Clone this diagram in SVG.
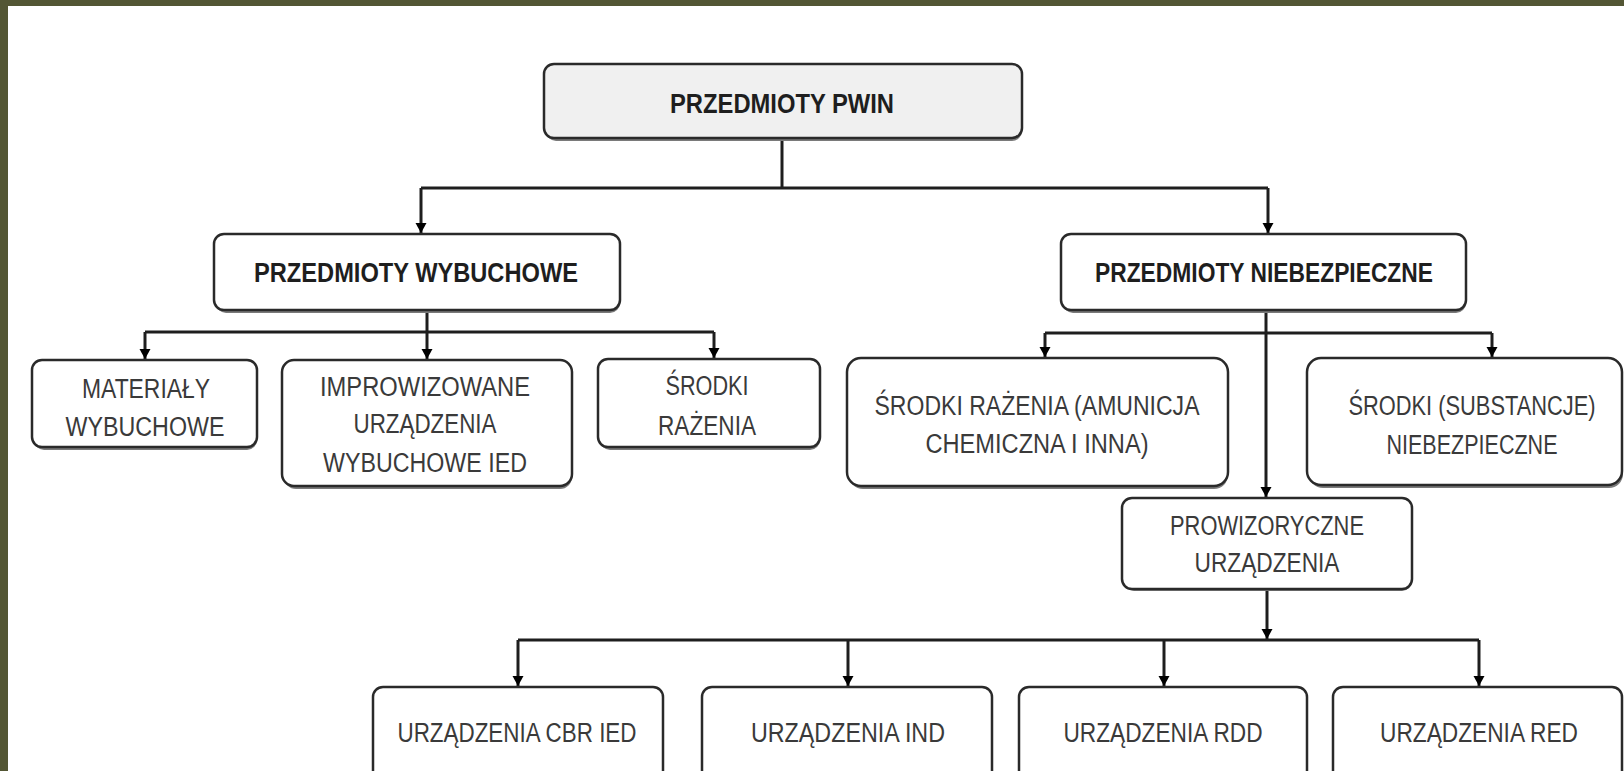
<svg xmlns="http://www.w3.org/2000/svg" width="1624" height="771" viewBox="0 0 1624 771">
<style>
.box{fill:#ffffff;stroke:#2a2a2a;stroke-width:2.5}
.root{fill:#f0f0f0}
.sh{fill:#7a7a7a}
.t{font-family:"Liberation Sans",Arial,sans-serif;font-size:27px;fill:#3a3a3a;text-anchor:middle}
.b{font-weight:bold;fill:#1e1e1e}
.c{fill:none;stroke:#1e1e1e;stroke-width:3}
</style>
<defs>
<marker id="ar" markerUnits="userSpaceOnUse" markerWidth="10" markerHeight="12" viewBox="0 0 10 12" refX="10" refY="6" orient="auto">
<path d="M0 0.5 L10 6 L0 11.5 Z" fill="#000"/>
</marker>
</defs>
<rect x="0" y="0" width="1624" height="771" fill="#ffffff"/>
<rect x="0" y="0" width="1624" height="6" fill="#535634"/>
<rect x="0" y="0" width="8" height="771" fill="#535634"/>

<g id="connectors">
<path class="c" d="M782 139 V188"/>
<path class="c" d="M421 188 H1268"/>
<path class="c" d="M421 188 V233" marker-end="url(#ar)"/>
<path class="c" d="M1268 188 V233" marker-end="url(#ar)"/>
<path class="c" d="M427 311 V332"/>
<path class="c" d="M145 332 H714"/>
<path class="c" d="M145 332 V359" marker-end="url(#ar)"/>
<path class="c" d="M427 332 V359" marker-end="url(#ar)"/>
<path class="c" d="M714 332 V358" marker-end="url(#ar)"/>
<path class="c" d="M1266 311 V497" marker-end="url(#ar)"/>
<path class="c" d="M1045 333 H1492"/>
<path class="c" d="M1045 333 V357" marker-end="url(#ar)"/>
<path class="c" d="M1492 333 V357" marker-end="url(#ar)"/>
<path class="c" d="M1267 590 V639" marker-end="url(#ar)"/>
<path class="c" d="M518 640 H1479"/>
<path class="c" d="M518 640 V686" marker-end="url(#ar)"/>
<path class="c" d="M848 640 V686" marker-end="url(#ar)"/>
<path class="c" d="M1164 640 V686" marker-end="url(#ar)"/>
<path class="c" d="M1479 640 V686" marker-end="url(#ar)"/>
</g>

<g id="n-root">
<rect class="sh" x="546" y="70" width="476" height="71" rx="10"/>
<rect class="box root" x="544" y="64" width="478" height="74" rx="10"/>
<text class="t b" x="782" y="113" textLength="224" lengthAdjust="spacingAndGlyphs">PRZEDMIOTY PWIN</text>
</g>
<g id="n-wybuchowe">
<rect class="sh" x="216" y="240" width="404" height="73" rx="10"/>
<rect class="box" x="214" y="234" width="406" height="76" rx="10"/>
<text class="t b" x="416" y="282" textLength="324" lengthAdjust="spacingAndGlyphs">PRZEDMIOTY WYBUCHOWE</text>
</g>
<g id="n-niebezpieczne">
<rect class="sh" x="1063" y="240" width="403" height="73" rx="10"/>
<rect class="box" x="1061" y="234" width="405" height="76" rx="10"/>
<text class="t b" x="1264" y="282" textLength="338" lengthAdjust="spacingAndGlyphs">PRZEDMIOTY NIEBEZPIECZNE</text>
</g>
<g id="n-materialy">
<rect class="sh" x="34" y="366" width="223" height="84" rx="10"/>
<rect class="box" x="32" y="360" width="225" height="87" rx="10"/>
<text class="t" x="146" y="398" textLength="128" lengthAdjust="spacingAndGlyphs">MATERIAŁY</text>
<text class="t" x="145" y="436" textLength="159" lengthAdjust="spacingAndGlyphs">WYBUCHOWE</text>
</g>
<g id="n-ied">
<rect class="sh" x="284" y="366" width="288" height="123" rx="12"/>
<rect class="box" x="282" y="360" width="290" height="126" rx="12"/>
<text class="t" x="425" y="396" textLength="210" lengthAdjust="spacingAndGlyphs">IMPROWIZOWANE</text>
<text class="t" x="425" y="433" textLength="143" lengthAdjust="spacingAndGlyphs">URZĄDZENIA</text>
<text class="t" x="425" y="472" textLength="204" lengthAdjust="spacingAndGlyphs">WYBUCHOWE IED</text>
</g>
<g id="n-srodki">
<rect class="sh" x="600" y="365" width="220" height="85" rx="10"/>
<rect class="box" x="598" y="359" width="222" height="88" rx="10"/>
<text class="t" x="707" y="395" textLength="83" lengthAdjust="spacingAndGlyphs">ŚRODKI</text>
<text class="t" x="707" y="435" textLength="98" lengthAdjust="spacingAndGlyphs">RAŻENIA</text>
</g>
<g id="n-amunicja">
<rect class="sh" x="849" y="364" width="379" height="125" rx="14"/>
<rect class="box" x="847" y="358" width="381" height="128" rx="14"/>
<text class="t" x="1037" y="415" textLength="325" lengthAdjust="spacingAndGlyphs">ŚRODKI RAŻENIA (AMUNICJA</text>
<text class="t" x="1037" y="453" textLength="223" lengthAdjust="spacingAndGlyphs">CHEMICZNA I INNA)</text>
</g>
<g id="n-substancje">
<rect class="sh" x="1309" y="364" width="314" height="124" rx="14"/>
<rect class="box" x="1307" y="358" width="315" height="127" rx="14"/>
<text class="t" x="1472" y="415" textLength="247" lengthAdjust="spacingAndGlyphs">ŚRODKI (SUBSTANCJE)</text>
<text class="t" x="1472" y="454" textLength="171" lengthAdjust="spacingAndGlyphs">NIEBEZPIECZNE</text>
</g>
<g id="n-prowizoryczne">
<rect class="sh" x="1124" y="502" width="288" height="89" rx="10"/>
<rect class="box" x="1122" y="498" width="290" height="91" rx="10"/>
<text class="t" x="1267" y="535" textLength="194" lengthAdjust="spacingAndGlyphs">PROWIZORYCZNE</text>
<text class="t" x="1267" y="572" textLength="145" lengthAdjust="spacingAndGlyphs">URZĄDZENIA</text>
</g>
<g id="n-cbr">
<rect class="box" x="373" y="687" width="290" height="100" rx="10"/>
<text class="t" x="517" y="742" textLength="239" lengthAdjust="spacingAndGlyphs">URZĄDZENIA CBR IED</text>
</g>
<g id="n-ind">
<rect class="box" x="702" y="687" width="290" height="100" rx="10"/>
<text class="t" x="848" y="742" textLength="194" lengthAdjust="spacingAndGlyphs">URZĄDZENIA IND</text>
</g>
<g id="n-rdd">
<rect class="box" x="1019" y="687" width="288" height="100" rx="10"/>
<text class="t" x="1163" y="742" textLength="199" lengthAdjust="spacingAndGlyphs">URZĄDZENIA RDD</text>
</g>
<g id="n-red">
<rect class="box" x="1333" y="687" width="289" height="100" rx="10"/>
<text class="t" x="1479" y="742" textLength="198" lengthAdjust="spacingAndGlyphs">URZĄDZENIA RED</text>
</g>
</svg>
